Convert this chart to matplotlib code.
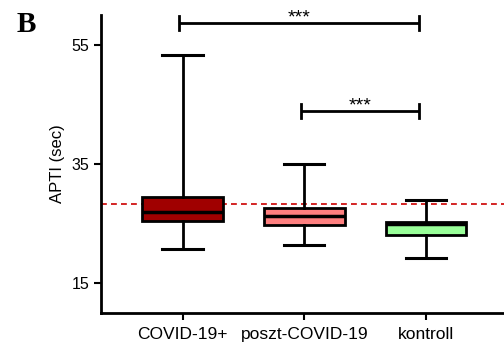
import matplotlib
matplotlib.use("Agg")
import matplotlib.pyplot as plt

plt.rcParams['font.family'] = ['Liberation Sans', 'DejaVu Sans']

categories = ["COVID-19+", "poszt-COVID-19", "kontroll"]
whisker_low = [20.7, 21.4, 19.2]
q1 = [25.5, 24.8, 23.1]
median = [26.9, 26.3, 25.0]
q3 = [29.4, 27.7, 25.3]
whisker_high = [53.3, 35.0, 28.9]
colors = ["#A00000", "#FF8080", "#99FF99"]
reference_line = 28.3
yticks = [15, 35, 55]
sig_pairs = [(0, 2), (1, 2)]
sig_heights = [58.7, 43.9]
sig_labels = ["***", "***"]

fig = plt.figure(figsize=(5.04, 3.53), dpi=100)
ax = fig.add_axes([0.2004, 0.1133, 0.7996, 0.8442])

stats = []
for i, c in enumerate(categories):
    stats.append(dict(label=c, whislo=whisker_low[i], q1=q1[i], med=median[i],
                      q3=q3[i], whishi=whisker_high[i], fliers=[]))

positions = list(range(len(categories)))
bp = ax.bxp(stats, positions=positions, widths=0.66, patch_artist=True,
            showfliers=False,
            boxprops=dict(linewidth=2, edgecolor='black'),
            medianprops=dict(color='black', linewidth=2.5),
            whiskerprops=dict(color='black', linewidth=2),
            capprops=dict(color='black', linewidth=2.2),
            capwidths=0.33)
for patch, col in zip(bp['boxes'], colors):
    patch.set_facecolor(col)

ax.axhline(reference_line, color='#CC0000', linestyle=(0, (3.5, 2.5)), linewidth=1.2, zorder=1)

for (a, b), h, lab in zip(sig_pairs, sig_heights, sig_labels):
    x0 = a - 0.03
    x1 = b - 0.06
    ax.plot([x0, x1], [h, h], color='black', linewidth=2, solid_capstyle='butt', clip_on=False)
    for xx in (x0, x1):
        ax.plot([xx, xx], [h - 1.2, h + 1.2], color='black', linewidth=2, clip_on=False)
    ax.text((x0 + x1) / 2, h - 0.6, lab, ha='center', va='bottom', fontsize=14)

ax.set_xlim(-0.67, 2.64)
ax.set_ylim(10, 60)
ax.set_yticks(yticks)
ax.set_xticks(positions)
ax.set_xticklabels(categories, fontsize=12.5)
ax.tick_params(axis='y', labelsize=11.5, width=1.5, length=5)
ax.tick_params(axis='x', width=1.5, length=5, pad=5)
ax.set_ylabel("APTI (sec)", fontsize=12, labelpad=5)
for s in ['top', 'right']:
    ax.spines[s].set_visible(False)
for s in ['left', 'bottom']:
    ax.spines[s].set_linewidth(2)

fig.text(0.032, 0.91, "B", fontsize=21, fontweight='bold', family='Liberation Serif')

fig.savefig("out.png", dpi=100)
